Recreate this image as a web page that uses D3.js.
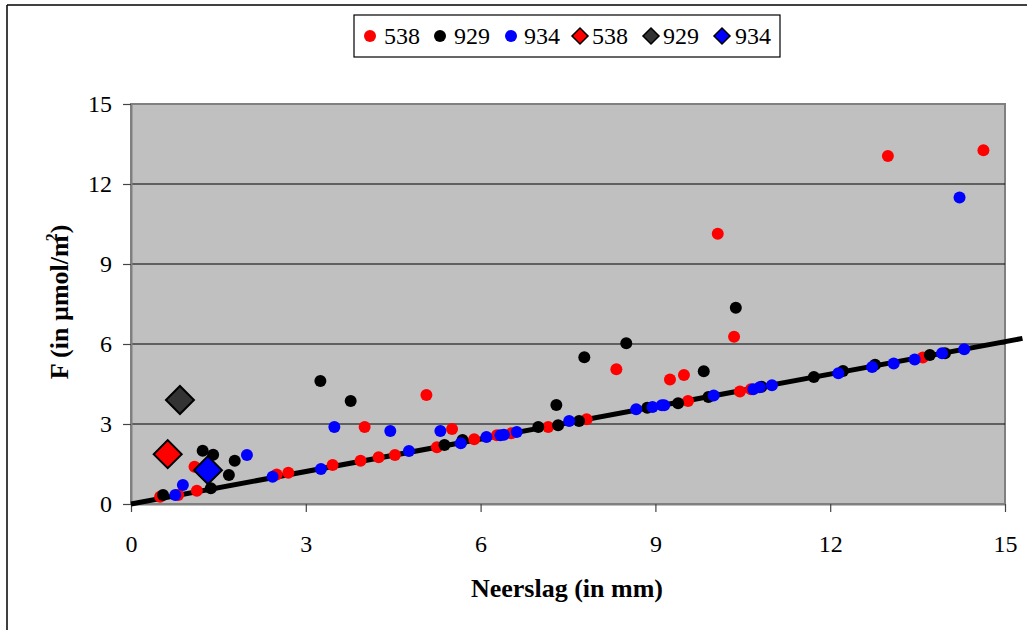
<!DOCTYPE html>
<html><head><meta charset="utf-8">
<script src="https://cdn.jsdelivr.net/npm/d3@7"></script>
<style>body{margin:0;background:#fff}</style>
</head><body><svg id="c" width="1027" height="630"></svg>
<script>
// ---- data ----
const xTicks = [0, 3, 6, 9, 12, 15];
const yTicks = [0, 3, 6, 9, 12, 15];
const seriesNames = ["538", "929", "934"];
const seriesColors = ["#ff0000", "#000000", "#0000ff"];
const diamondColors = ["#ff0000", "#333333", "#0000ff"];

const x538 = [0.50,0.81,1.09,1.13,2.50,2.70,3.46,3.94,4.01,4.25,4.53,5.07,5.25,5.51,5.89,6.28,6.53,7.16,7.82,8.33,9.25,9.49,9.56,10.07,10.35,10.45,10.64,12.99,13.59,14.63];
const y538 = [0.27,0.34,1.40,0.50,1.11,1.17,1.46,1.62,2.89,1.75,1.84,4.09,2.13,2.81,2.43,2.58,2.65,2.89,3.18,5.05,4.67,4.84,3.86,10.13,6.27,4.22,4.30,13.05,5.49,13.27];

const x929 = [0.55,1.23,1.37,1.41,1.68,1.78,3.25,3.77,5.38,5.69,6.99,7.30,7.33,7.69,7.78,8.50,8.86,9.39,9.83,9.91,10.38,10.82,11.72,12.22,12.77,13.71,13.97];
const y929 = [0.34,2.00,0.59,1.85,1.09,1.62,4.61,3.86,2.21,2.40,2.89,3.71,2.95,3.11,5.50,6.03,3.61,3.78,4.98,4.01,7.36,4.40,4.76,4.99,5.22,5.59,5.65];

const x934 = [0.76,0.89,1.99,2.43,3.26,3.49,4.45,4.77,5.31,5.66,6.10,6.34,6.40,6.62,7.52,8.67,8.95,9.11,9.15,10.00,10.68,10.79,11.00,12.14,12.72,13.09,13.45,13.92,14.22,14.30];
const y934 = [0.34,0.71,1.84,1.02,1.31,2.89,2.74,1.99,2.74,2.28,2.51,2.58,2.60,2.70,3.11,3.55,3.64,3.70,3.70,4.07,4.30,4.38,4.45,4.90,5.14,5.27,5.42,5.65,11.49,5.80];

// averages (diamonds)
const avgX = [0.63, 0.84, 1.32];
const avgY = [1.87, 3.90, 1.27];

// trend line
const lineX = [0, 15.3];
const lineY = [0, 6.21];

// ---- drawing ----
const svg = d3.select("#c");
const FONT = "'Liberation Serif','Times New Roman',serif";
const x = d3.scaleLinear().domain([0, 15]).range([131, 1005]);
const y = d3.scaleLinear().domain([0, 15]).range([504, 104]);

// outer frame
svg.append("line").attr("x1",7).attr("y1",5).attr("x2",1027).attr("y2",5).attr("stroke","#000").attr("stroke-width",1.5);
svg.append("line").attr("x1",7).attr("y1",5).attr("x2",7).attr("y2",630).attr("stroke","#000").attr("stroke-width",1.5);

// plot background
svg.append("rect").attr("x", x(0)).attr("y", y(15)).attr("width", x(15)-x(0)).attr("height", y(0)-y(15))
  .attr("fill","#c0c0c0").attr("stroke","#808080").attr("stroke-width",2);

// gridlines
svg.append("g").selectAll("line").data(yTicks.filter(d=>d>0 && d<15)).join("line")
  .attr("x1", x(0)).attr("x2", x(15)).attr("y1", d=>y(d)).attr("y2", d=>y(d))
  .attr("stroke","#000").attr("stroke-width",1);

// axes
const yAxis = svg.append("g").attr("transform",`translate(${x(0)},0)`)
  .call(d3.axisLeft(y).tickValues(yTicks).tickSize(8).tickSizeOuter(0).tickPadding(11));
const xAxis = svg.append("g").attr("transform",`translate(0,${y(0)})`)
  .call(d3.axisBottom(x).tickValues(xTicks).tickSize(8).tickSizeOuter(0).tickPadding(23));
[yAxis, xAxis].forEach(a=>{
  a.select(".domain").attr("stroke","#808080").attr("stroke-width",2);
  a.selectAll(".tick line").attr("stroke","#444").attr("stroke-width",1.2);
  a.selectAll("text").attr("font-family",FONT).attr("font-size",24).attr("fill","#000");
});

// trend line
svg.append("path").datum(lineX.map((v,i)=>[v,lineY[i]]))
  .attr("d", d3.line().x(d=>x(d[0])).y(d=>y(d[1])))
  .attr("stroke","#000").attr("stroke-width",5).attr("fill","none");

// scatter series
const allX = [x538, x929, x934], allY = [y538, y929, y934];
allX.forEach((xs, si)=>{
  svg.append("g").selectAll("circle").data(xs.map((v,i)=>[v, allY[si][i]])).join("circle")
    .attr("cx", d=>x(d[0])).attr("cy", d=>y(d[1])).attr("r", 6)
    .attr("fill", seriesColors[si]);
});

// diamonds
const diamond = d3.symbol().type(d3.symbolSquare).size(392);
svg.append("g").selectAll("path").data(avgX.map((v,i)=>[v, avgY[i], i])).join("path")
  .attr("d", diamond)
  .attr("transform", d=>`translate(${x(d[0])},${y(d[1])}) rotate(45)`)
  .attr("fill", d=>diamondColors[d[2]]).attr("stroke","#000").attr("stroke-width",2);

// legend
const lg = svg.append("g");
lg.append("rect").attr("x",354).attr("y",15).attr("width",426).attr("height",42)
  .attr("fill","#fff").attr("stroke","#000").attr("stroke-width",1.2);
const legendItems = [
  {type:"dot", i:0, cx:370, tx:384},
  {type:"dot", i:1, cx:440, tx:454},
  {type:"dot", i:2, cx:511, tx:524},
  {type:"dia", i:0, cx:580, tx:592},
  {type:"dia", i:1, cx:651, tx:663},
  {type:"dia", i:2, cx:722, tx:735}
];
const legDia = d3.symbol().type(d3.symbolSquare).size(128);
legendItems.forEach(it=>{
  if (it.type==="dot") {
    lg.append("circle").attr("cx",it.cx).attr("cy",36).attr("r",6).attr("fill",seriesColors[it.i]);
  } else {
    lg.append("path").attr("d",legDia).attr("transform",`translate(${it.cx},36) rotate(45)`)
      .attr("fill",diamondColors[it.i]).attr("stroke","#000").attr("stroke-width",1.5);
  }
  lg.append("text").attr("x",it.tx).attr("y",44).attr("font-family",FONT).attr("font-size",24)
    .text(seriesNames[it.i]);
});

// axis titles
svg.append("text").attr("x", 567).attr("y", 597).attr("text-anchor","middle")
  .attr("font-family",FONT).attr("font-size",26).attr("font-weight","bold").text("Neerslag (in mm)");
const yt = svg.append("text").attr("transform","translate(68,302) rotate(-90)").attr("text-anchor","middle")
  .attr("font-family",FONT).attr("font-size",26).attr("font-weight","bold");
yt.append("tspan").text("F (in µmol/m");
yt.append("tspan").attr("font-size",16).attr("dy",-11).attr("dx",-6).text("2");
yt.append("tspan").attr("dy",11).text(")");
</script>
</body></html>
